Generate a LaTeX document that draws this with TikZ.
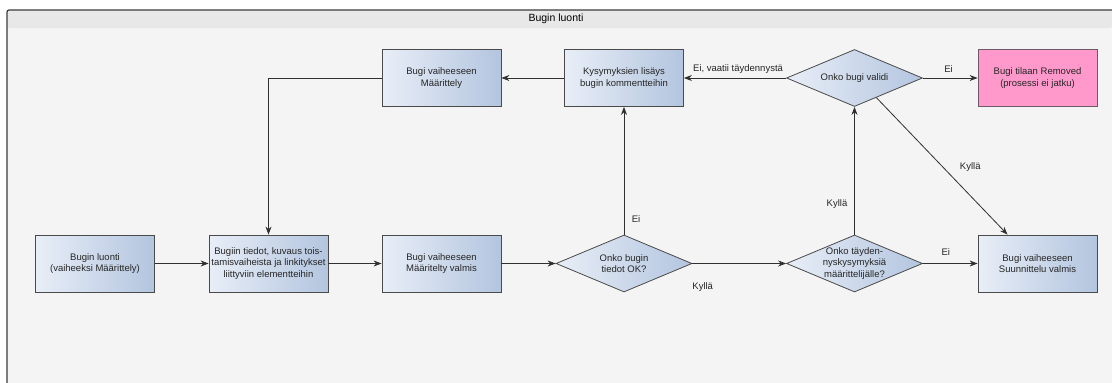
\documentclass[tikz,border=0pt]{standalone}
\usepackage{fontspec}
\setmainfont{Liberation Sans}
\usetikzlibrary{shapes.geometric,arrows.meta,calc}
\definecolor{boxL}{HTML}{E8EEF7}
\definecolor{boxR}{HTML}{B3C5DF}
\definecolor{bordr}{HTML}{4A4A4A}
\definecolor{pinkfill}{HTML}{FF99CC}
\definecolor{pinkbord}{HTML}{6E5A66}
\definecolor{bodyfill}{HTML}{F4F4F4}
\definecolor{titlefill}{HTML}{E8E8E8}
\definecolor{framec}{HTML}{3C3C3C}
\definecolor{linec}{HTML}{303030}
\definecolor{txtc}{HTML}{262626}
\newcommand{\dgfont}{\fontsize{9.5pt}{11.6pt}\selectfont}
\tikzset{
  procbox/.style={draw=bordr, line width=0.8pt, left color=boxL, right color=boxR,
    minimum width=119pt, minimum height=57pt, inner sep=0pt, align=center,
    font=\dgfont, text=txtc},
  pinkbox/.style={procbox, left color=pinkfill, right color=pinkfill, draw=pinkbord},
  decision/.style={diamond, draw=bordr, line width=0.8pt, left color=boxL, right color=boxR,
    minimum width=136pt, minimum height=57pt, inner sep=0pt, aspect=2.386},
  dtext/.style={font=\dgfont, text=txtc, align=center, inner sep=0pt},
  arr/.style={draw=linec, line width=0.8pt, -{Stealth[length=8pt,width=6pt]}},
  plainline/.style={draw=linec, line width=0.8pt},
  elbl/.style={font=\dgfont, text=txtc, inner sep=0pt}
}
\begin{document}
\begin{tikzpicture}[x=1pt,y=-1pt]
\useasboundingbox (0,0) rectangle (1112,383);
% frame
\fill[white] (0,0) rectangle (1112,383);
\fill[bodyfill] (7,10) rectangle (1112,383);
\fill[titlefill, rounded corners=2pt] (7,28) -- (7,10) -- (1112,10) -- (1112,28) -- cycle;
\draw[framec, line width=1.2pt, rounded corners=2pt] (7,383) -- (7,10) -- (1112,10);
\node[font=\fontsize{10.5pt}{12pt}\selectfont, text=black, inner sep=0pt] (title) at (556,19) {Bugin luonti};

% top row
\node[procbox] (mdef) at (441.5,78) {Bugi vaiheeseen\\Määrittely};
\node[procbox] (kys) at (624,78) {Kysymyksien lisäys\\bugin kommentteihin};
\node[decision] (valid) at (854.5,78) {};
\node[dtext] (validt) at (valid.center) {Onko bugi validi};
\node[pinkbox] (rem) at (1037.5,78) {Bugi tilaan Removed\\(prosessi ei jatku)};

% bottom row
\node[procbox] (luonti) at (95,263.5) {Bugin luonti\\(vaiheeksi Määrittely)};
\node[procbox] (tiedot) at (268.5,263.5) {Bugiin tiedot, kuvaus tois-\\tamisvaiheista ja linkitykset\\liittyviin elementteihin};
\node[procbox] (mval) at (441.5,263.5) {Bugi vaiheeseen\\Määritelty valmis};
\node[decision] (ok) at (624,263.5) {};
\node[dtext] (okt) at (ok.center) {Onko bugin\\tiedot OK?};
\node[decision] (tayd) at (854.5,263.5) {};
\node[dtext] (taydt) at (tayd.center) {Onko täyden-\\nyskysymyksiä\\määrittelijälle?};
\node[procbox] (suun) at (1037.5,263.5) {Bugi vaiheeseen\\Suunnittelu valmis};

% connectors
\draw[arr] (luonti.east) -- (tiedot.west);
\draw[arr] (tiedot.east) -- (mval.west);
\draw[arr] (mval.east) -- (ok.west);
\draw[arr] (ok.east) -- node[elbl, pos=0.11, yshift=-23.5pt] {Kyllä} (tayd.west);
\draw[arr] (ok.north) -- node[elbl, pos=0.125, xshift=12pt] {Ei} (kys.south);
\draw[arr] (tayd.east) -- node[elbl, pos=0.42, yshift=11.5pt] {Ei} (suun.west);
\draw[arr] (tayd.north) -- node[elbl, pos=0.24, xshift=-17.5pt] {Kyllä} (valid.south);
\draw[arr] (valid.west) -- node[elbl, pos=0.47, yshift=9pt] {Ei, vaatii täydennystä} (kys.east);
\draw[arr] (valid.east) -- node[elbl, pos=0.47, yshift=9pt] {Ei} (rem.west);
\coordinate (vs) at ($(valid.south)!0.32!(valid.east)$);
\coordinate (st) at ($(suun.north west)!0.25!(suun.north east)$);
\draw[arr] (vs) -- node[elbl, pos=0.51, xshift=27pt] {Kyllä} (st);
\draw[arr] (kys.west) -- (mdef.east);
\draw[arr] (mdef.west) -| (tiedot.north);
\end{tikzpicture}
\end{document}
